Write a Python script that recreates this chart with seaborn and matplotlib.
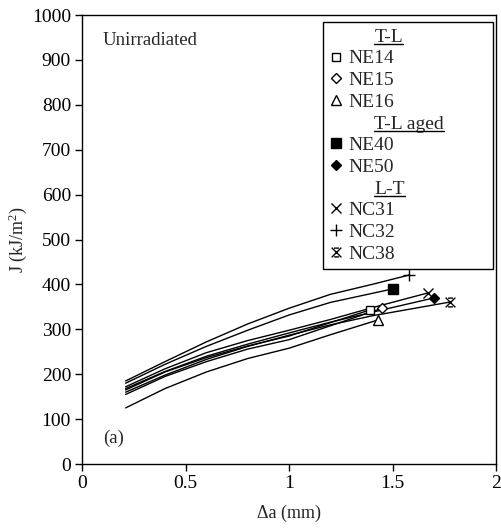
import numpy as np
import pandas as pd
import matplotlib
matplotlib.use("Agg")
import matplotlib.pyplot as plt
from matplotlib.lines import Line2D
from matplotlib.path import Path
import seaborn as sns

# J-R curves, unirradiated material
ne14_da = [0.21, 0.4, 0.6, 0.8, 1.0, 1.2, 1.39]
ne14_j = [165, 205, 237, 263, 285, 315, 343]
ne15_da = [0.21, 0.4, 0.6, 0.8, 1.0, 1.2, 1.45]
ne15_j = [155, 195, 228, 256, 277, 308, 347]
ne16_da = [0.21, 0.4, 0.6, 0.8, 1.0, 1.2, 1.43]
ne16_j = [125, 168, 205, 235, 258, 288, 321]
ne40_da = [0.21, 0.4, 0.6, 0.8, 1.0, 1.2, 1.5]
ne40_j = [180, 222, 262, 298, 332, 360, 390]
ne50_da = [0.21, 0.4, 0.6, 0.8, 1.0, 1.2, 1.4, 1.70]
ne50_j = [168, 206, 240, 267, 292, 316, 338, 370]
nc31_da = [0.21, 0.4, 0.6, 0.8, 1.0, 1.2, 1.4, 1.67]
nc31_j = [172, 212, 248, 275, 298, 322, 348, 381]
nc32_da = [0.21, 0.4, 0.6, 0.8, 1.0, 1.2, 1.4, 1.58]
nc32_j = [185, 228, 272, 312, 347, 378, 400, 421]
nc38_da = [0.21, 0.4, 0.6, 0.8, 1.0, 1.2, 1.4, 1.78]
nc38_j = [160, 198, 233, 262, 287, 310, 330, 361]

groups = ["T-L", "T-L aged", "L-T"]
group_members = {
    "T-L": ["NE14", "NE15", "NE16"],
    "T-L aged": ["NE40", "NE50"],
    "L-T": ["NC31", "NC32", "NC38"],
}
series = {
    "NE14": (ne14_da, ne14_j), "NE15": (ne15_da, ne15_j), "NE16": (ne16_da, ne16_j),
    "NE40": (ne40_da, ne40_j), "NE50": (ne50_da, ne50_j),
    "NC31": (nc31_da, nc31_j), "NC32": (nc32_da, nc32_j), "NC38": (nc38_da, nc38_j),
}

# x with short bars top and bottom for NC38
star_x = Path([(-1, -1), (1, 1), (-1, 1), (1, -1),
               (-0.5, 0.9), (0.5, 0.9), (-0.5, -0.9), (0.5, -0.9)],
              [Path.MOVETO, Path.LINETO, Path.MOVETO, Path.LINETO,
               Path.MOVETO, Path.LINETO, Path.MOVETO, Path.LINETO])
marker_style = {
    "NE14": dict(marker="s", mfc="white", ms=6),
    "NE15": dict(marker="D", mfc="white", ms=5.5),
    "NE16": dict(marker="^", mfc="white", ms=6.5),
    "NE40": dict(marker="s", mfc="black", ms=6.5),
    "NE50": dict(marker="D", mfc="black", ms=5.5),
    "NC31": dict(marker="x", mfc="black", ms=7),
    "NC32": dict(marker="+", mfc="black", ms=8),
    "NC38": dict(marker=star_x, mfc="black", ms=7),
}

rows = []
for name, (da, j) in series.items():
    for a, v in zip(da, j):
        rows.append({"specimen": name, "da": a, "J": v})
df = pd.DataFrame(rows)

sns.set_theme(style="ticks")
plt.rcParams["font.family"] = ["Liberation Serif", "DejaVu Serif"]
plt.rcParams["mathtext.fontset"] = "custom"
plt.rcParams["mathtext.rm"] = "Liberation Serif"
plt.rcParams["mathtext.it"] = "Liberation Serif:italic"

fig = plt.figure(figsize=(5.01, 5.30), dpi=100)
ax = fig.add_axes([0.164, 0.1245, 0.826, 0.847])

sns.lineplot(data=df, x="da", y="J", units="specimen", estimator=None,
             sort=False, color="black", lw=1.0, ax=ax, legend=False)

# end-point markers
for name, (da, j) in series.items():
    st = marker_style[name]
    ax.plot(da[-1:], j[-1:], linestyle="none", color="black", mec="black",
            mew=1.0, **st)

ax.set_xlim(0, 2)
ax.set_ylim(0, 1000)
ax.set_xticks([0, 0.5, 1, 1.5, 2])
ax.set_xticklabels(["0", "0.5", "1", "1.5", "2"])
ax.set_yticks(np.arange(0, 1001, 100))
ax.tick_params(direction="out", length=5, width=1.0, labelsize=14, colors="black", pad=3)
for sp in ax.spines.values():
    sp.set_visible(True)
    sp.set_linewidth(1.0)
    sp.set_color("black")
ax.set_xlabel("Δa (mm)", fontsize=13, labelpad=9)
ax.set_ylabel("J (kJ/m$^2$)", fontsize=13, labelpad=2)

ax.text(0.1, 944, "Unirradiated", fontsize=13.5, va="center", ha="left")
ax.text(0.1, 58, "(a)", fontsize=13.5, va="center", ha="left")

# legend with group headers
handles, labels, headers = [], [], []
for g in groups:
    handles.append(Line2D([], [], linestyle="none"))
    labels.append(g)
    headers.append(True)
    for name in group_members[g]:
        st = marker_style[name]
        handles.append(Line2D([], [], linestyle="none", color="black", mec="black",
                              mew=1.0, **st))
        labels.append(name)
        headers.append(False)

leg = ax.legend(handles, labels, loc="upper left", mode="expand",
                bbox_to_anchor=(0.582, 0.0, 0.411, 0.984),
                frameon=True, fancybox=False, edgecolor="black", framealpha=1,
                fontsize=14, handlelength=0.7, handletextpad=0.3,
                labelspacing=0.21, borderpad=0.3, borderaxespad=0)
leg.get_frame().set_linewidth(1.0)

texts = leg.get_texts()
for t, h in zip(texts, headers):
    if h:
        t.set_x(26)

fig.canvas.draw()
renderer = fig.canvas.get_renderer()
inv = fig.transFigure.inverted()
for t, h in zip(texts, headers):
    if h:
        bb = t.get_window_extent(renderer)
        (x0, y0), (x1, y1) = inv.transform([(bb.x0, bb.y0 + 2), (bb.x1, bb.y0 + 2)])
        fig.add_artist(Line2D([x0, x1], [y0, y1], color="black", lw=1.0,
                              transform=fig.transFigure))

fig.savefig("out.png", dpi=100)
